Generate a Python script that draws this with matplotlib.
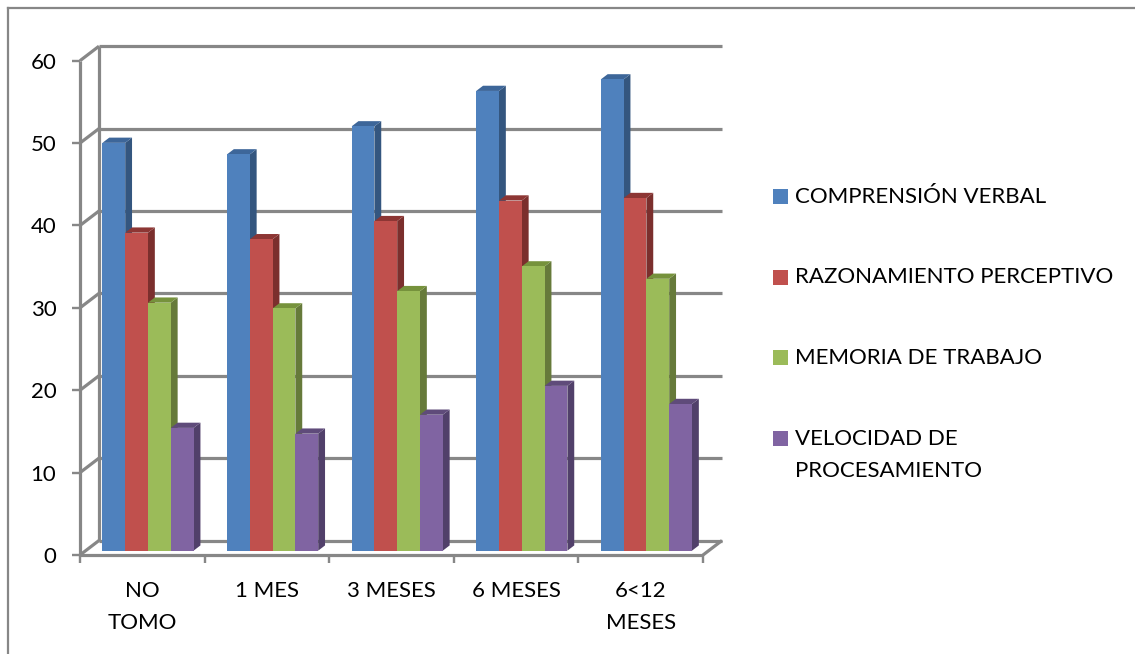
import matplotlib
matplotlib.use("Agg")
import matplotlib.pyplot as plt
from matplotlib.patches import Polygon, Rectangle

plt.rcParams['font.family'] = ['Lato', 'DejaVu Sans']

# ---- data ----
categories = ["NO\nTOMO", "1 MES", "3 MESES", "6 MESES", "6<12\nMESES"]
series_names = ["COMPRENSIÓN VERBAL", "RAZONAMIENTO PERCEPTIVO",
                "MEMORIA DE TRABAJO", "VELOCIDAD DE\nPROCESAMIENTO"]
comprension_verbal = [49.5, 48.1, 51.5, 55.8, 57.2]
razonamiento_perceptivo = [38.6, 37.8, 40.0, 42.5, 42.8]
memoria_trabajo = [30.1, 29.4, 31.5, 34.5, 33.0]
velocidad_procesamiento = [14.9, 14.2, 16.5, 20.0, 17.8]
y_ticks = [0, 10, 20, 30, 40, 50, 60]

series = [comprension_verbal, razonamiento_perceptivo, memoria_trabajo,
          velocidad_procesamiento]

# front, side, top face colours per series
face_colors = ["#4F81BD", "#C0504D", "#9BBB59", "#8064A2"]
side_colors = ["#34567F", "#7B2F2D", "#667A3A", "#51406A"]
top_colors = ["#3D6699", "#8D3634", "#76923C", "#5F4B7A"]
grid_color = "#878787"

W, H = 1135, 654
fig = plt.figure(figsize=(W / 100, H / 100), dpi=100)

# front plane of the 3-D box
x0_px, x1_px = 80, 703
y0_px, y1_px = 555, 60.7
ax = fig.add_axes([x0_px / W, (H - y0_px) / H,
                   (x1_px - x0_px) / W, (y0_px - y1_px) / H])
ax.set_xlim(-0.5, len(categories) - 0.5)
ax.set_ylim(0, 60)
for s in ax.spines.values():
    s.set_visible(False)
ax.patch.set_visible(False)

px_x = (x1_px - x0_px) / len(categories)   # pixels per category
px_y = (y0_px - y1_px) / 60.0              # pixels per value unit

# depth of the box (oblique projection, up and to the right)
DX = 19 / px_x
DY = 14.5 / px_y

xl, xr = -0.5, len(categories) - 0.5
lw = 2.3
line_kw = dict(color=grid_color, lw=lw, clip_on=False, solid_capstyle='butt',
               zorder=1)

# back wall gridlines + left wall diagonals
for v in y_ticks:
    ax.plot([xl + DX, xr + DX], [v + DY, v + DY], **line_kw)
    ax.plot([xl, xl + DX], [v, v + DY], **line_kw)
# left wall back edge, front axis line
ax.plot([xl + DX, xl + DX], [DY, 60 + DY], **line_kw)
ax.plot([xl, xl], [0, 60], **line_kw)
# floor front and right edges
ax.plot([xl, xr], [0, 0], **line_kw)
ax.plot([xr, xr + DX], [0, DY], **line_kw)

# bars
n_series = len(series)
bar_w = 22.8 / px_x
f0, f1 = 0.30, 0.66            # bar front / back depth fractions
bdx, bdy = (f1 - f0) * DX, (f1 - f0) * DY
ox, oy = f0 * DX, f0 * DY
z = 5
for i in range(len(categories)):
    start = i - n_series * bar_w / 2
    for j, vals in enumerate(series):
        v = vals[i]
        left = start + j * bar_w + ox
        right = left + bar_w
        bottom = oy
        top = v + oy
        side = Polygon([(right, bottom), (right + bdx, bottom + bdy),
                        (right + bdx, top + bdy), (right, top)],
                       closed=True, facecolor=side_colors[j], edgecolor='none',
                       clip_on=False, zorder=z)
        topf = Polygon([(left, top), (right, top), (right + bdx, top + bdy),
                        (left + bdx, top + bdy)],
                       closed=True, facecolor=top_colors[j], edgecolor='none',
                       clip_on=False, zorder=z)
        front = Rectangle((left, bottom), bar_w, v, facecolor=face_colors[j],
                          edgecolor='none', clip_on=False, zorder=z)
        ax.add_patch(side)
        ax.add_patch(topf)
        ax.add_patch(front)
        z += 1

# ticks and labels
fs = 16
ax.set_yticks(y_ticks)
ax.set_yticklabels([str(t) for t in y_ticks])
ax.tick_params(axis='y', length=5.5, width=lw * 0.75, color=grid_color,
               labelsize=fs, pad=11.5, labelcolor='black')
ax.set_xticks([k - 0.5 for k in range(len(categories) + 1)])
ax.set_xticklabels([])
ax.tick_params(axis='x', which='major', length=6, width=lw * 0.75,
               color=grid_color)
ax.set_xticks(range(len(categories)), minor=True)
ax.set_xticklabels(categories, minor=True, fontsize=fs, va='top',
                   linespacing=1.75)
ax.tick_params(axis='x', which='minor', length=0, pad=19)

# legend
leg_x_box = 773
leg_x_txt = 795
leg_y = [196.7, 277.2, 357.7, 438.2]
line_gap = 33
for name, c, yy in zip(series_names, face_colors, leg_y):
    fig.patches.append(Rectangle((leg_x_box / W, (H - yy - 7.5) / H),
                                 15 / W, 15 / H, transform=fig.transFigure,
                                 facecolor=c, edgecolor='none'))
    n_lines = name.count('\n') + 1
    yc = yy + (n_lines - 1) * line_gap / 2
    fig.text(leg_x_txt / W, (H - yc) / H, name, fontsize=fs,
             va='center', ha='left', linespacing=1.75,
             transform=fig.transFigure)

# outer chart border (top and left edges visible)
fig.add_artist(plt.Line2D([7.5 / W, 1.0], [(H - 8) / H, (H - 8) / H],
                          transform=fig.transFigure, color=grid_color, lw=1.6))
fig.add_artist(plt.Line2D([7.5 / W, 7.5 / W], [0, (H - 8) / H],
                          transform=fig.transFigure, color=grid_color, lw=1.6))

fig.savefig("out.png", dpi=100)
